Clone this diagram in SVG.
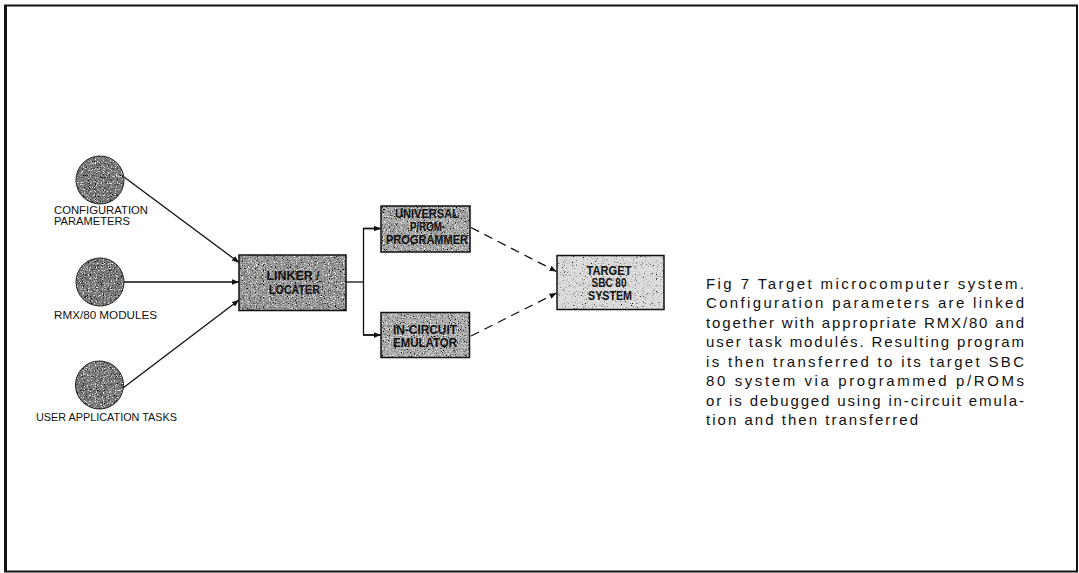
<svg xmlns="http://www.w3.org/2000/svg" width="1079" height="573" viewBox="0 0 1079 573">
<style>
.frame{fill:none;stroke:#111;stroke-width:2}
.node{stroke:#111;stroke-width:1.5}
.lbl{font-family:"Liberation Sans",Arial,sans-serif;font-size:11.5px;fill:#111}
.bx{font-family:"Liberation Sans",Arial,sans-serif;font-size:12.5px;font-weight:bold;fill:#111;text-anchor:middle}
.cap{font-family:"Liberation Sans",Arial,sans-serif;font-size:15px;fill:#111}
.conn{fill:none;stroke:#111;stroke-width:1.3}
.dash{stroke-dasharray:9 6}
</style>
<defs>
<filter id="stip" x="0" y="0" width="100%" height="100%">
<feTurbulence type="fractalNoise" baseFrequency="0.85" numOctaves="2" seed="7" result="n"/>
<feColorMatrix in="n" type="matrix" values="0 0 0 0 0  0 0 0 0 0  0 0 0 0 0  5 0 0 0 -2.6" result="dots"/>
<feComposite in="dots" in2="SourceGraphic" operator="in" result="d2"/>
<feColorMatrix in="n" type="matrix" values="0 0 0 0 1  0 0 0 0 1  0 0 0 0 1  0 -5 0 0 2.1" result="wd"/>
<feComposite in="wd" in2="SourceGraphic" operator="in" result="w2"/>
<feMerge><feMergeNode in="SourceGraphic"/><feMergeNode in="d2"/><feMergeNode in="w2"/></feMerge>
</filter>
<filter id="stipL" x="0" y="0" width="100%" height="100%">
<feTurbulence type="fractalNoise" baseFrequency="0.9" numOctaves="2" seed="3" result="n"/>
<feColorMatrix in="n" type="matrix" values="0 0 0 0 0  0 0 0 0 0  0 0 0 0 0  5 0 0 0 -3.0" result="dots"/>
<feComposite in="dots" in2="SourceGraphic" operator="in" result="d2"/>
<feMerge><feMergeNode in="SourceGraphic"/><feMergeNode in="d2"/></feMerge>
</filter>
<marker id="ah" viewBox="0 0 10 10" refX="10" refY="5" markerWidth="7" markerHeight="7" markerUnits="userSpaceOnUse" orient="auto">
<path d="M0,1 L10,5 L0,9 z" fill="#111"/>
</marker>
</defs>
<rect width="1079" height="573" fill="#fff"/>
<rect class="frame" x="5" y="5.5" width="1072" height="566"/>
<line x1="5.5" y1="5" x2="5.5" y2="572" stroke="#111" stroke-width="3"/>

<g id="connectors">
<line class="conn" x1="124" y1="177" x2="239" y2="262.5" marker-end="url(#ah)"/>
<line class="conn" x1="124" y1="282" x2="239" y2="282" marker-end="url(#ah)"/>
<line class="conn" x1="123" y1="388" x2="239" y2="300" marker-end="url(#ah)"/>
<polyline class="conn" points="346,282 363.5,282"/>
<polyline class="conn" points="381,228.5 363.5,228.5 363.5,335 381,335"/>
<line class="conn" x1="363.5" y1="228.5" x2="381" y2="228.5" marker-end="url(#ah)"/>
<line class="conn" x1="363.5" y1="335" x2="381" y2="335" marker-end="url(#ah)"/>
<line class="conn dash" x1="471" y1="227.5" x2="556.5" y2="271.5" marker-end="url(#ah)"/>
<line class="conn dash" x1="471" y1="336" x2="556.5" y2="293" marker-end="url(#ah)"/>
</g>

<g id="config">
<circle cx="100" cy="180" r="24" fill="#7a7a7a" filter="url(#stip)"/>
<circle cx="100" cy="180" r="24" fill="none" stroke="#222" stroke-width="1"/>
<text class="lbl" x="54" y="213.5" textLength="94" lengthAdjust="spacingAndGlyphs">CONFIGURATION</text>
<text class="lbl" x="54" y="224.5" textLength="76" lengthAdjust="spacingAndGlyphs">PARAMETERS</text>
</g>
<g id="rmx">
<circle cx="100" cy="282" r="24" fill="#7a7a7a" filter="url(#stip)"/>
<circle cx="100" cy="282" r="24" fill="none" stroke="#222" stroke-width="1"/>
<text class="lbl" x="54" y="318.5" textLength="103" lengthAdjust="spacingAndGlyphs">RMX/80 MODULES</text>
</g>
<g id="user">
<circle cx="99.5" cy="385" r="24" fill="#7a7a7a" filter="url(#stip)"/>
<circle cx="99.5" cy="385" r="24" fill="none" stroke="#222" stroke-width="1"/>
<text class="lbl" x="36" y="421" textLength="141" lengthAdjust="spacingAndGlyphs">USER APPLICATION TASKS</text>
</g>

<g id="linker">
<rect x="239" y="255" width="107" height="55.5" fill="#9a9a9a" filter="url(#stip)"/>
<rect class="node" x="239" y="255" width="107" height="55.5" fill="none"/>
<text class="bx" x="293" y="280" textLength="53" lengthAdjust="spacingAndGlyphs">LINKER /</text>
<text class="bx" x="294.5" y="293.5" textLength="51" lengthAdjust="spacingAndGlyphs">LOCATER</text>
</g>
<g id="universal">
<rect x="381" y="206" width="89" height="46" fill="#a8a8a8" filter="url(#stip)"/>
<rect class="node" x="381" y="206" width="89" height="46" fill="none"/>
<text class="bx" x="427" y="218" textLength="64" lengthAdjust="spacingAndGlyphs" style="font-size:12px">UNIVERSAL</text>
<text class="bx" x="427.5" y="230.5" textLength="35" lengthAdjust="spacingAndGlyphs" style="font-size:12px">P/ROM-</text>
<text class="bx" x="427" y="244" textLength="82" lengthAdjust="spacingAndGlyphs" style="font-size:12px">PROGRAMMER</text>
</g>
<g id="ice">
<rect x="381" y="312.5" width="88.5" height="45" fill="#b0b0b0" filter="url(#stip)"/>
<rect class="node" x="381" y="312.5" width="88.5" height="45" fill="none"/>
<text class="bx" x="425" y="334" textLength="64" lengthAdjust="spacingAndGlyphs" style="font-size:12px">IN-CIRCUIT</text>
<text class="bx" x="425" y="346.5" textLength="64" lengthAdjust="spacingAndGlyphs" style="font-size:12px">EMULATOR</text>
</g>
<g id="target">
<rect x="557" y="255.5" width="107" height="54" fill="#dcdcdc" filter="url(#stipL)"/>
<rect class="node" x="557" y="255.5" width="107" height="54" fill="none"/>
<text class="bx" x="609" y="274.5" textLength="45" lengthAdjust="spacingAndGlyphs">TARGET</text>
<text class="bx" x="609" y="287" textLength="35" lengthAdjust="spacingAndGlyphs">SBC 80</text>
<text class="bx" x="610" y="300" textLength="44" lengthAdjust="spacingAndGlyphs">SYSTEM</text>
</g>

<g id="caption">
<text class="cap" x="706" y="288.5" textLength="318" lengthAdjust="spacing">Fig 7  Target microcomputer system.</text>
<text class="cap" x="706" y="308" textLength="318" lengthAdjust="spacing">Configuration parameters are linked</text>
<text class="cap" x="706" y="327.5" textLength="318" lengthAdjust="spacing">together with appropriate RMX/80 and</text>
<text class="cap" x="706" y="347" textLength="318" lengthAdjust="spacing">user task modulés. Resulting program</text>
<text class="cap" x="706" y="366.5" textLength="318" lengthAdjust="spacing">is then transferred to its target SBC</text>
<text class="cap" x="706" y="386" textLength="318" lengthAdjust="spacing">80 system via programmed p/ROMs</text>
<text class="cap" x="706" y="405.5" textLength="318" lengthAdjust="spacing">or is debugged using in-circuit emula-</text>
<text class="cap" x="706" y="425" textLength="212" lengthAdjust="spacing">tion and then transferred</text>
</g>
</svg>
